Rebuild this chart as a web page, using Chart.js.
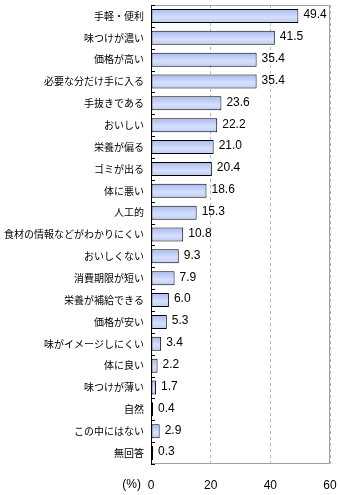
<!DOCTYPE html>
<html><head><meta charset="utf-8">
<script src="https://cdn.jsdelivr.net/npm/chart.js@4/dist/chart.umd.min.js"></script>
<style>html,body{margin:0;padding:0;background:#fff}#wrap{width:340px;height:495px}</style>
</head><body><div id="wrap"><canvas id="c" width="340" height="495"></canvas></div>
<script>
const categories = ["手軽・便利","味つけが濃い","価格が高い","必要な分だけ手に入る","手抜きである","おいしい","栄養が偏る","ゴミが出る","体に悪い","人工的","食材の情報などがわかりにくい","おいしくない","消費期限が短い","栄養が補給できる","価格が安い","味がイメージしにくい","体に良い","味つけが薄い","自然","この中にはない","無回答"];
const values = [49.4,41.5,35.4,35.4,23.6,22.2,21.0,20.4,18.6,15.3,10.8,9.3,7.9,6.0,5.3,3.4,2.2,1.7,0.4,2.9,0.3];
const xTicks = [0,20,40,60];
const unitLabel = "(%)";

const FONT = "'Noto Sans CJK JP', sans-serif";

const extras = {
  id: 'extras',
  beforeDatasetsDraw(chart) {
    const {ctx, chartArea: a} = chart;
    ctx.save();
    ctx.strokeStyle = '#a0a0a0'; ctx.lineWidth = 1;
    ctx.beginPath();
    ctx.moveTo(a.left, a.top + 0.5); ctx.lineTo(a.right - 0.5, a.top + 0.5);
    ctx.lineTo(a.right - 0.5, a.bottom - 0.5);
    ctx.lineTo(a.left, a.bottom - 0.5);
    ctx.stroke();
    ctx.restore();
  },
  afterDatasetsDraw(chart) {
    const {ctx, chartArea: a, scales} = chart;
    const ys = scales.y;
    ctx.save();
    ctx.strokeStyle = '#000'; ctx.lineWidth = 1;
    ctx.beginPath();
    for (let i = 0; i <= categories.length; i++) {
      const y = Math.round(ys.getPixelForValue(i - 0.5)) + 0.5;
      ctx.moveTo(a.left, y); ctx.lineTo(a.left + 4, y);
    }
    ctx.stroke();
    ctx.beginPath();
    ctx.moveTo(a.left + 0.5, a.top); ctx.lineTo(a.left + 0.5, a.bottom);
    ctx.stroke();
    ctx.fillStyle = '#000';
    ctx.font = "12px 'Liberation Sans', sans-serif";
    ctx.textAlign = 'left'; ctx.textBaseline = 'middle';
    const meta = chart.getDatasetMeta(0);
    meta.data.forEach((bar, i) => {
      ctx.fillText(values[i].toFixed(1), bar.x + 5, bar.y - 1);
    });
    ctx.textAlign = 'right';
    ctx.fillText(unitLabel, a.left - 10, a.bottom + 21);
    ctx.restore();
  }
};

const ctx = document.getElementById('c').getContext('2d');
new Chart(ctx, {
  type: 'bar',
  data: {
    labels: categories,
    datasets: [{
      data: values,
      backgroundColor: (c) => {
        const ch = c.chart;
        const ys = ch.scales && ch.scales.y;
        if (!ys || !ch.chartArea || c.dataIndex === undefined) return '#c8d4f8';
        const y = ys.getPixelForValue(c.dataIndex);
        const h = ys.getPixelForValue(1) - ys.getPixelForValue(0);
        if (!isFinite(y) || !isFinite(h) || h === 0) return '#c8d4f8';
        const hh = Math.abs(h) * 0.32;
        const g = ch.ctx.createLinearGradient(0, y - hh, 0, y + hh);
        g.addColorStop(0, '#a9b9ee');
        g.addColorStop(0.6, '#d6e0ff');
        g.addColorStop(1, '#bccaf4');
        return g;
      },
      borderColor: '#000',
      borderWidth: 1,
      borderSkipped: false,
      categoryPercentage: 1,
      barPercentage: 0.64,
      minBarLength: 2
    }]
  },
  plugins: [extras],
  options: {
    indexAxis: 'y',
    responsive: false,
    animation: false,
    layout: { padding: { left: 0, right: 10, top: 5, bottom: 0 } },
    plugins: { legend: { display: false }, tooltip: { enabled: false } },
    scales: {
      x: {
        min: 0, max: 60,
        afterBuildTicks(s) { s.ticks = xTicks.map(v => ({ value: v })); },
        afterFit(s) { s.height = 31; s.paddingRight = 0; s.paddingLeft = 0; },
        grid: { color: '#b8b8b8', drawTicks: false },
        border: { display: false, dash: [3, 3] },
        ticks: { color: '#000', font: { family: "'Liberation Sans', sans-serif", size: 12 }, padding: 14 }
      },
      y: {
        afterFit(s) { s.width = 151; s.paddingTop = 0; s.paddingBottom = 0; },
        grid: { display: false, drawTicks: false },
        border: { display: false },
        ticks: { color: '#000', font: { family: FONT, size: 10 }, padding: 7, autoSkip: false }
      }
    }
  }
});
</script>
</body></html>
